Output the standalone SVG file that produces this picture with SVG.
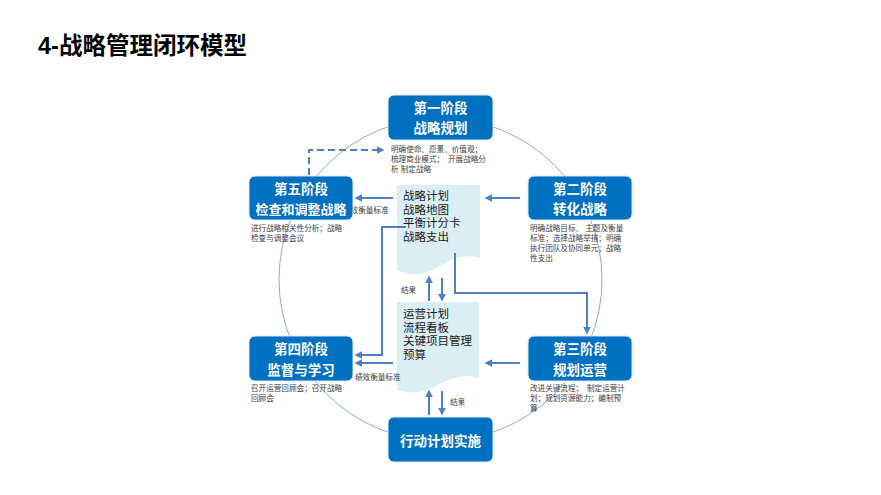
<svg xmlns="http://www.w3.org/2000/svg" width="881" height="495" viewBox="0 0 881 495">
<style>
.box{fill:#0070c0;stroke:#dbe7f5;stroke-width:1}
.bt{font-family:"Liberation Sans","Noto Sans CJK SC",sans-serif;font-weight:bold;font-size:13.5px;fill:#fff;text-anchor:middle}
.desc{font-family:"Liberation Sans","Noto Sans CJK SC",sans-serif;font-size:7.6px;fill:#404040}
.doc{fill:#daeef3}
.dt{font-family:"Liberation Sans","Noto Sans CJK SC",sans-serif;font-size:11.5px;fill:#1a1a1a}
.lbl{font-family:"Liberation Sans","Noto Sans CJK SC",sans-serif;font-size:7.6px;fill:#404040}
.ar{fill:none;stroke:#4f7fc4;stroke-width:2}
</style>
<defs>
<marker id="ah" viewBox="0 0 10 10" refX="8" refY="5" markerWidth="4" markerHeight="4" orient="auto">
<path d="M0,0 L10,5 L0,10 Z" fill="#4f7fc4"/>
</marker>
</defs>
<rect width="881" height="495" fill="#fff"/>
<text x="38" y="54" font-family="Liberation Sans,Noto Sans CJK SC,sans-serif" font-weight="bold" font-size="23.5" fill="#000">4-战略管理闭环模型</text>
<circle cx="440.5" cy="279.5" r="161.5" fill="none" stroke="#8eaadb" stroke-width="1"/>
<g id="doc1">
<path class="doc" d="M397,185 H480 V258 Q462,252 440,266 Q418,280 397,270 Z"/>
<text class="dt" x="403" y="200"><tspan x="403" y="200">战略计划</tspan><tspan x="403" dy="13.5">战略地图</tspan><tspan x="403" dy="13.5">平衡计分卡</tspan><tspan x="403" dy="13.5">战略支出</tspan></text>
</g>
<g id="doc2">
<path class="doc" d="M397,302 H479 V378 Q462,372 440,384 Q418,397 397,390 Z"/>
<text class="dt" x="403" y="318"><tspan x="403" y="318">运营计划</tspan><tspan x="403" dy="13.5">流程看板</tspan><tspan x="403" dy="13.5">关键项目管理</tspan><tspan x="403" dy="13.5">预算</tspan></text>
</g>
<g id="labels">
<text class="lbl" x="343" y="213">绩效衡量标准</text>
<text class="lbl" x="355" y="380">绩效衡量标准</text>
<text class="lbl" x="401" y="293">结果</text>
<text class="lbl" x="450" y="405">结果</text>
</g>
<g id="connectors">
<path class="ar" d="M309,175 V150 H383" stroke-dasharray="7,4" marker-end="url(#ah)"/>
<path class="ar" d="M393,198 H356" marker-end="url(#ah)"/>
<path class="ar" d="M520,198 H486" marker-end="url(#ah)"/>
<path class="ar" d="M406,227 H382 V355 H356" marker-end="url(#ah)"/>
<path class="ar" d="M393,363 H356" marker-end="url(#ah)"/>
<path class="ar" d="M455,253 V293 H587 V333" marker-end="url(#ah)"/>
<path class="ar" d="M520,363 H486" marker-end="url(#ah)"/>
<path class="ar" d="M429,301 V277" marker-end="url(#ah)"/>
<path class="ar" d="M442,278 V300" marker-end="url(#ah)"/>
<path class="ar" d="M429,415 V391" marker-end="url(#ah)"/>
<path class="ar" d="M442,391 V414" marker-end="url(#ah)"/>
</g>
<g id="stage1">
<rect class="box" x="388" y="95" width="105" height="45" rx="6"/>
<text class="bt" x="440.5" y="113"><tspan x="440.5" y="113">第一阶段</tspan><tspan x="440.5" dy="20">战略规划</tspan></text>
<text class="desc" x="391" y="152"><tspan x="391" y="152">明确使命、愿景、价值观；</tspan><tspan x="391" dy="10">梳理商业模式；　开展战略分</tspan><tspan x="391" dy="10">析 制定战略</tspan></text>
</g>
<g id="stage5">
<rect class="box" x="249" y="176" width="104" height="44" rx="6"/>
<text class="bt" x="301" y="194"><tspan x="301" y="194">第五阶段</tspan><tspan x="301" dy="20" font-size="13">检查和调整战略</tspan></text>
<text class="desc" x="251" y="231"><tspan x="251" y="231">进行战略相关性分析；战略</tspan><tspan x="251" dy="10">检查与调整会议</tspan></text>
</g>
<g id="stage2">
<rect class="box" x="528" y="176" width="104" height="44" rx="6"/>
<text class="bt" x="580" y="194"><tspan x="580" y="194">第二阶段</tspan><tspan x="580" dy="20">转化战略</tspan></text>
<text class="desc" x="530" y="231"><tspan x="530" y="231">明确战略目标、 主题及衡量</tspan><tspan x="530" dy="10">标准；选择战略举措；明确</tspan><tspan x="530" dy="10">执行团队及协同单元；战略</tspan><tspan x="530" dy="10">性支出</tspan></text>
</g>
<g id="stage4">
<rect class="box" x="249" y="336" width="104" height="45" rx="6"/>
<text class="bt" x="301" y="354"><tspan x="301" y="354">第四阶段</tspan><tspan x="301" dy="21">监督与学习</tspan></text>
<text class="desc" x="251" y="391"><tspan x="251" y="391">召开运营回顾会；召开战略</tspan><tspan x="251" dy="10">回顾会</tspan></text>
</g>
<g id="stage3">
<rect class="box" x="528" y="336" width="104" height="45" rx="6"/>
<text class="bt" x="580" y="354"><tspan x="580" y="354">第三阶段</tspan><tspan x="580" dy="21">规划运营</tspan></text>
<text class="desc" x="530" y="391"><tspan x="530" y="391">改进关键流程；　制定运营计</tspan><tspan x="530" dy="10">划；规划资源能力；编制预</tspan><tspan x="530" dy="10">算</tspan></text>
</g>
<g id="action">
<rect class="box" x="388" y="417" width="105" height="45" rx="6"/>
<text class="bt" x="440.5" y="446" font-size="13.5">行动计划实施</text>
</g>
</svg>
